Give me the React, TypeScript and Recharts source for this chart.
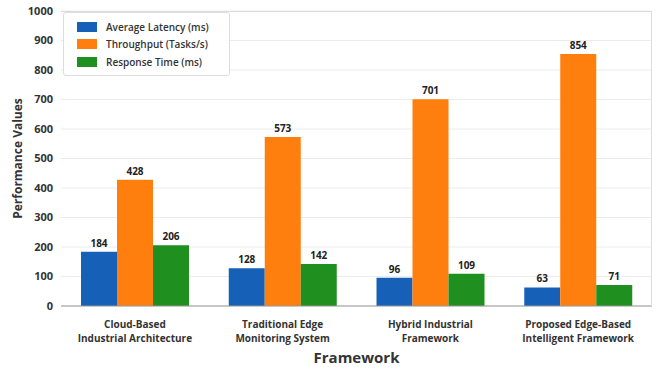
import React from 'react'
import { BarChart, Bar, XAxis, YAxis, CartesianGrid, LabelList } from 'recharts'

const frameworks = [
  'Cloud-Based|Industrial Architecture',
  'Traditional Edge|Monitoring System',
  'Hybrid Industrial|Framework',
  'Proposed Edge-Based|Intelligent Framework',
]
const avgLatency = [184, 128, 96, 63]
const throughput = [428, 573, 701, 854]
const responseTime = [206, 142, 109, 71]
const yTicks = [0, 100, 200, 300, 400, 500, 600, 700, 800, 900, 1000]

const SERIES = [
  { key: 'latency', name: 'Average Latency (ms)', color: '#1660b8' },
  { key: 'throughput', name: 'Throughput (Tasks/s)', color: '#ff7f0e' },
  { key: 'response', name: 'Response Time (ms)', color: '#1f8f1f' },
]

const FONT = '"Open Sans", "DejaVu Sans", sans-serif'

const data = frameworks.map((name, i) => ({
  name,
  latency: avgLatency[i],
  throughput: throughput[i],
  response: responseTime[i],
}))

function CategoryTick({ x, y, payload }: any) {
  const lines = String(payload.value).split('|')
  return (
    <g transform={`translate(${x},${y})`}>
      {lines.map((line, i) => (
        <text
          key={i}
          x={0}
          y={14 + i * 14}
          textAnchor="middle"
          fontSize={10}
          fontWeight={700}
          fill="#333"
          fontFamily={FONT}
        >
          {line}
        </text>
      ))}
    </g>
  )
}

// legend sits over the plot's top-left corner
function LegendBox() {
  return (
    <div
      style={{
        position: 'absolute',
        left: 63,
        top: 12,
        width: 167,
        padding: '5px 0 4px 13px',
        boxSizing: 'border-box',
        border: '1px solid #ddd',
        borderRadius: 3,
        background: 'rgba(255,255,255,0.92)',
        fontFamily: FONT,
        fontSize: 10,
        fontWeight: 600,
        color: '#333',
      }}
    >
      {SERIES.map((s) => (
        <div key={s.key} style={{ display: 'flex', alignItems: 'center', height: 17.5 }}>
          <span style={{ width: 20, height: 10, background: s.color, marginRight: 9 }} />
          <span>{s.name}</span>
        </div>
      ))}
    </div>
  )
}

export default function App() {
  return (
    <div style={{ position: 'absolute', left: 0, top: 0, width: 658, height: 371, background: '#fff' }}>
      <BarChart
        width={658}
        height={371}
        data={data}
        margin={{ top: 11, right: 6, bottom: 5, left: 0 }}
        barGap={0}
        barSize={36}
      >
        <CartesianGrid vertical={false} stroke="#ececec" />
        <XAxis
          dataKey="name"
          height={60}
          tick={<CategoryTick />}
          tickLine={false}
          axisLine={{ stroke: '#999' }}
          interval={0}
          label={{
            value: 'Framework',
            position: 'insideBottom',
            offset: 3,
            fontSize: 15,
            fontWeight: 700,
            fill: '#333',
            fontFamily: FONT,
          }}
        />
        <YAxis
          width={61}
          domain={[0, 1000]}
          ticks={yTicks}
          tickLine={false}
          axisLine={false}
          tick={{ fontSize: 11, fontWeight: 700, fill: '#333', fontFamily: FONT }}
          label={{
            value: 'Performance Values',
            angle: -90,
            position: 'insideLeft',
            offset: 18,
            style: { textAnchor: 'middle' },
            fontSize: 12,
            fontWeight: 700,
            fill: '#333',
            fontFamily: FONT,
          }}
        />
        {SERIES.map((s) => (
          <Bar key={s.key} dataKey={s.key} name={s.name} fill={s.color} isAnimationActive={false}>
            <LabelList
              dataKey={s.key}
              position="top"
              offset={5}
              fontSize={10}
              fontWeight={700}
              fill="#222"
              fontFamily={FONT}
            />
          </Bar>
        ))}
      </BarChart>
      {/* light frame around the plot area */}
      <div
        style={{
          position: 'absolute',
          left: 61,
          top: 11,
          width: 591,
          height: 295,
          borderTop: '1px solid #dcdcdc',
          borderRight: '1px solid #dcdcdc',
          boxSizing: 'border-box',
          pointerEvents: 'none',
        }}
      />
      <LegendBox />
    </div>
  )
}
